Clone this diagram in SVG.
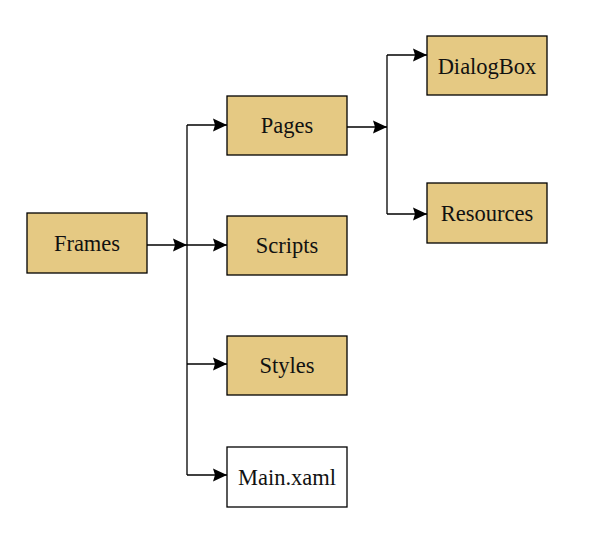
<svg xmlns="http://www.w3.org/2000/svg" width="601" height="551" viewBox="0 0 601 551">
<style>
.n rect{stroke:#000;stroke-width:1.3}
.f{fill:#E5C983}
.w{fill:#fff}
.c path{fill:none;stroke:#000;stroke-width:1.3}
</style>
<defs>
<marker id="a" markerWidth="15" markerHeight="14" refX="14" refY="7" orient="auto" markerUnits="userSpaceOnUse">
<path d="M0,0.5 L14,7 L0,13.5 L2,7 Z" fill="#000"/>
</marker>
</defs>
<rect width="601" height="551" fill="#fff"/>
<g class="c">
<path d="M147,245 H187" marker-end="url(#a)"/>
<path d="M187,125 V475"/>
<path d="M187,125 H227" marker-end="url(#a)"/>
<path d="M187,245 H227" marker-end="url(#a)"/>
<path d="M187,364 H227" marker-end="url(#a)"/>
<path d="M187,475 H227" marker-end="url(#a)"/>
<path d="M347,127 H387" marker-end="url(#a)"/>
<path d="M387,55 V214"/>
<path d="M387,55 H427" marker-end="url(#a)"/>
<path d="M387,214 H427" marker-end="url(#a)"/>
</g>
<g font-family="'Liberation Serif', 'Times New Roman', serif" font-size="22.5" fill="#111" text-anchor="middle">
<g id="frames" class="n"><rect class="f" x="27" y="213" width="120" height="60"/><text x="87" y="251">Frames</text></g>
<g id="pages" class="n"><rect class="f" x="227" y="96" width="120" height="59"/><text x="287" y="133">Pages</text></g>
<g id="scripts" class="n"><rect class="f" x="227" y="216" width="120" height="59"/><text x="287" y="253">Scripts</text></g>
<g id="styles" class="n"><rect class="f" x="227" y="336" width="120" height="59"/><text x="287" y="373">Styles</text></g>
<g id="main" class="n"><rect class="w" x="227" y="447" width="120" height="60"/><text x="287" y="485">Main.xaml</text></g>
<g id="dialogbox" class="n"><rect class="f" x="427" y="36" width="120" height="59"/><text x="487" y="74">DialogBox</text></g>
<g id="resources" class="n"><rect class="f" x="427" y="183" width="120" height="60"/><text x="487" y="221">Resources</text></g>
</g>
</svg>
